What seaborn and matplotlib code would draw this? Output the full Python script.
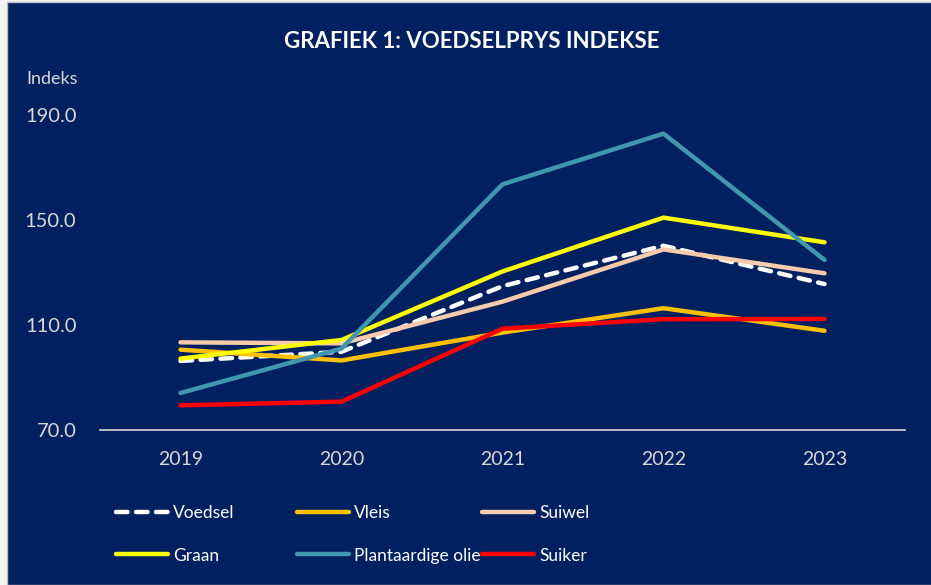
import pandas as pd
import seaborn as sns
import matplotlib.pyplot as plt
from matplotlib.lines import Line2D
from matplotlib.patches import Rectangle

# Data
years = [2019, 2020, 2021, 2022, 2023]
voedsel = [96.3, 99.8, 124.8, 140.2, 125.6]
vleis = [100.6, 96.5, 107.1, 116.4, 107.8]
suiwel = [103.4, 103.0, 118.9, 138.8, 129.7]
graan = [97.2, 104.3, 130.4, 150.9, 141.5]
olie = [84.1, 101.0, 163.6, 182.9, 134.8]
suiker = [79.4, 80.8, 108.6, 112.2, 112.3]

series = ['Voedsel', 'Vleis', 'Suiwel', 'Graan', 'Plantaardige olie', 'Suiker']
colors = ['#FFFFFF', '#FFC000', '#F8CBAD', '#FFFF00', '#4297B0', '#FF0000']
y_ticks = [70, 110, 150, 190]

values = [voedsel, vleis, suiwel, graan, olie, suiker]
df = pd.DataFrame({
    'jaar': years * len(series),
    'indeks': [v for vals in values for v in vals],
    'reeks': [s for s in series for _ in years],
})

navy = '#002060'
sns.set_style('white')
plt.rcParams['font.family'] = ['Lato', 'DejaVu Sans']
plt.rcParams['lines.solid_capstyle'] = 'round'
plt.rcParams['lines.dash_capstyle'] = 'round'

fig = plt.figure(figsize=(9.31, 5.85), dpi=100, facecolor='#F2F2F2')
# chart area with thin border
fig.patches.append(Rectangle((7 / 931, 0), 1, 1 - 2 / 585, transform=fig.transFigure,
                             facecolor=navy, edgecolor='#BFBFBF', linewidth=1, zorder=-5))
ax = fig.add_axes([100 / 931, 1 - 430 / 585, 805 / 931, 315 / 585])
ax.set_zorder(2)
ax.set_facecolor(navy)

palette = dict(zip(series, colors))
dashes = {s: '' for s in series}
dashes['Voedsel'] = (2.6, 1.9)
sns.lineplot(data=df, x='jaar', y='indeks', hue='reeks', style='reeks',
             palette=palette, dashes=dashes, linewidth=3.2, ax=ax, legend=False)

ax.set_xlim(2018.5, 2023.5)
ax.set_ylim(70, 190)
ax.set_xticks(years)
ax.set_xticklabels([str(y) for y in years])
ax.set_yticks(y_ticks)
ax.set_yticklabels([f'{v:.1f}' for v in y_ticks])
ax.tick_params(axis='y', length=0, pad=17, labelsize=14.5, labelcolor='#D9D9D9')
ax.tick_params(axis='x', length=0, pad=15, labelsize=14, labelcolor='#D9D9D9')
ax.set_xlabel('')
ax.set_ylabel('')
for side in ['top', 'right', 'left']:
    ax.spines[side].set_visible(False)
ax.spines['bottom'].set_color('#D9D9D9')
ax.spines['bottom'].set_linewidth(1.2)

fig.text(472 / 931, 1 - 42 / 585, 'GRAFIEK 1: VOEDSELPRYS INDEKSE', ha='center', va='center',
         color='white', fontsize=16, fontweight='bold')
fig.text(26 / 931, 1 - 79 / 585, 'Indeks', ha='left', va='center', color='#D9D9D9', fontsize=13)

# legend: three columns of two entries
col_x = [100, 281, 466]
for c in range(3):
    handles = []
    for r in range(2):
        i = c + 3 * r
        handles.append(Line2D([0], [0], color=colors[i], linewidth=3.2,
                              dashes=dashes[series[i]] if series[i] == 'Voedsel' else (None, None),
                              label=series[i]))
    leg = fig.legend(handles=handles, loc='upper left',
                     bbox_to_anchor=(col_x[c] / 931, 1 - 489 / 585),
                     frameon=False, fontsize=12.5, labelcolor='white',
                     handlelength=3.0, handletextpad=0.3, labelspacing=1.55)

fig.savefig('out.png', dpi=100, facecolor=fig.get_facecolor())
